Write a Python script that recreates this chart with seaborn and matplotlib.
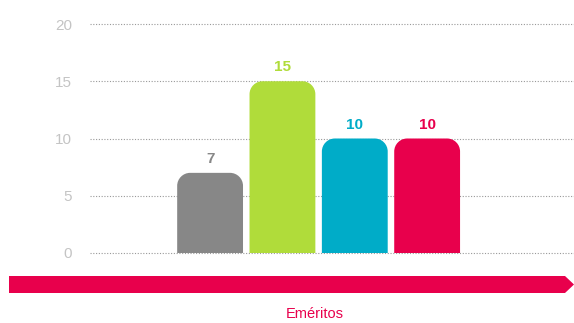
import numpy as np
import pandas as pd
import matplotlib
matplotlib.use('Agg')
import matplotlib.pyplot as plt
from matplotlib.path import Path
from matplotlib.patches import PathPatch, Polygon
import seaborn as sns

# data
categories = ['G1', 'G2', 'G3', 'G4']
values = [7, 15, 10, 10]
colors = ['#878787', '#b0dc3a', '#00acc8', '#e8004c']
yticks = [0, 5, 10, 15, 20]
xlabel = 'Eméritos'

sns.set_style('white')
plt.rcParams['font.family'] = ['Liberation Sans', 'DejaVu Sans']

fig = plt.figure(figsize=(5.74, 3.23), dpi=100)
ax = fig.add_axes([90 / 574, 70 / 323, 1 - 90 / 574, 229 / 323])

df = pd.DataFrame(dict(cat=categories, val=values))
sns.barplot(data=df, x='cat', y='val', hue='cat', palette=colors,
            width=0.91, legend=False, ax=ax, saturation=1)

ax.set_xlim(-1.66, 5.03)
ax.set_ylim(0, 20)

# rounded top corners
px_per_x = (574 - 90) / (5.03 + 1.66)
px_per_y = 229 / 20
r_px = 13
k = 0.5523
for p in list(ax.patches):
    x0, w, h = p.get_x(), p.get_width(), p.get_height()
    fc = p.get_facecolor()
    p.remove()
    rx = r_px / px_per_x
    ry = r_px / px_per_y
    x1 = x0 + w
    verts = [(x0, 0), (x0, h - ry),
             (x0, h - ry + k * ry), (x0 + rx - k * rx, h), (x0 + rx, h),
             (x1 - rx, h),
             (x1 - rx + k * rx, h), (x1, h - ry + k * ry), (x1, h - ry),
             (x1, 0), (x0, 0)]
    codes = [Path.MOVETO, Path.LINETO,
             Path.CURVE4, Path.CURVE4, Path.CURVE4,
             Path.LINETO,
             Path.CURVE4, Path.CURVE4, Path.CURVE4,
             Path.LINETO, Path.CLOSEPOLY]
    ax.add_patch(PathPatch(Path(verts, codes), facecolor=fc, edgecolor='none', zorder=3))

for i, v in enumerate(values):
    ax.text(i, v + 0.6, str(v), ha='center', va='bottom', color=colors[i],
            fontsize=11, fontweight='bold')

ax.set_yticks(yticks)
ax.set_yticklabels([str(t) for t in yticks], color='#c4c4c4', fontsize=11)
ax.tick_params(axis='y', length=0, pad=13)
ax.set_xticks([])
ax.set_xlabel('')
ax.set_ylabel('')
for s in ax.spines.values():
    s.set_visible(False)
ax.grid(axis='y', linestyle=(0, (1, 1.5)), color='#999999', linewidth=0.8, zorder=0)
for gl in ax.get_ygridlines():
    gl.set_clip_on(False)

# arrow band
fx = lambda px: px / 574
fy = lambda py: 1 - py / 323
arrow = Polygon([(fx(9), fy(276)), (fx(565), fy(276)), (fx(574), fy(284.5)),
                 (fx(565), fy(293)), (fx(9), fy(293))],
                closed=True, facecolor='#e8004c', edgecolor='none',
                transform=fig.transFigure)
fig.patches.append(arrow)
fig.text(fx(315), fy(314), xlabel, ha='center', va='center', color='#e8004c', fontsize=10.5)

fig.savefig('out.png', dpi=100)
